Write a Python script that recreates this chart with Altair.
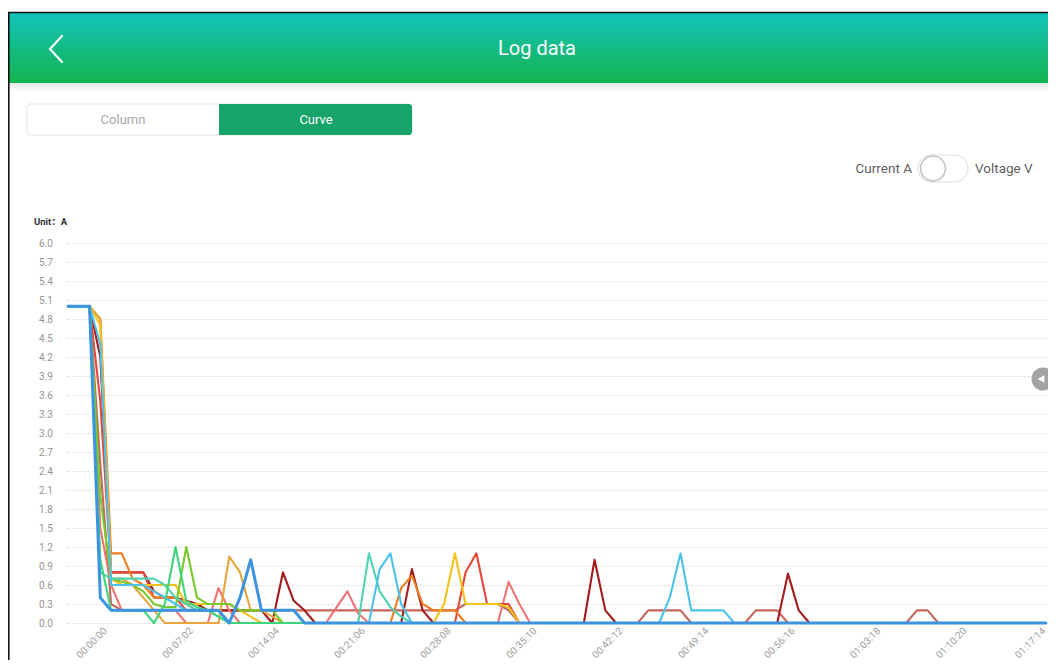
import altair as alt
import pandas as pd

# ---------------- data ----------------
series_names = ["brown", "crimson", "salmon", "red", "orange", "gold",
                "yellow", "lime", "teal", "sky", "green", "blue"]
series_colors = ["#c6655b", "#a31b1b", "#ef7373", "#e4483b", "#ef7d22", "#e6a53d",
                 "#f4c21c", "#79c92e", "#4fd3b0", "#4cc1ea", "#3ed67c", "#3c94e1"]

blue = [5.0, 5.0, 5.0, 0.4, 0.2, 0.2, 0.2, 0.2, 0.2, 0.2, 0.2, 0.2, 0.2, 0.2, 0.2, 0.0, 0.4, 1.0, 0.2, 0.2, 0.2, 0.2, 0.0,
        0, 0, 0, 0, 0, 0, 0, 0, 0, 0, 0, 0, 0, 0, 0, 0, 0, 0, 0, 0, 0, 0, 0,
        0, 0, 0, 0, 0, 0, 0, 0, 0, 0, 0, 0, 0, 0, 0, 0, 0, 0, 0, 0, 0, 0, 0,
        0, 0, 0, 0, 0, 0, 0, 0, 0, 0, 0, 0, 0, 0, 0, 0, 0, 0, 0, 0, 0, 0, 0]
sky = [5.0, 5.0, 5.0, 4.4, 0.6, 0.6, 0.6, 0.6, 0.5, 0.4, 0.3, 0.2, 0.2, 0.2, 0.2, 0, 0, 0, 0, 0, 0, 0, 0,
       0, 0, 0, 0, 0, 0, 0.85, 1.1, 0.3, 0, 0, 0, 0, 0, 0, 0, 0, 0, 0, 0, 0, 0, 0,
       0, 0, 0, 0, 0, 0, 0, 0, 0, 0, 0.4, 1.1, 0.2, 0.2, 0.2, 0.2, 0, 0, 0, 0, 0, 0, 0,
       0, 0, 0, 0, 0, 0, 0, 0, 0, 0, 0, 0, 0, 0, 0, 0, 0, 0, 0, 0, 0, 0, 0]
teal = [5.0, 5.0, 5.0, 0.8, 0.7, 0.7, 0.7, 0.7, 0.7, 0.6, 0.4, 0.3, 0.2, 0.2, 0.1, 0, 0, 0, 0, 0, 0, 0, 0,
        0, 0, 0, 0, 0, 1.1, 0.5, 0.25, 0.1, 0, 0, 0, 0, 0, 0, 0, 0, 0, 0, 0, 0, 0, 0,
        0, 0, 0, 0, 0, 0, 0, 0, 0, 0, 0, 0, 0, 0, 0, 0, 0, 0, 0, 0, 0, 0, 0,
        0, 0, 0, 0, 0, 0, 0, 0, 0, 0, 0, 0, 0, 0, 0, 0, 0, 0, 0, 0, 0, 0, 0]
green = [5.0, 5.0, 5.0, 1.0, 0.2, 0.2, 0.2, 0.2, 0.0, 0.3, 1.2, 0.35, 0.25, 0.2, 0.1, 0, 0, 0, 0, 0, 0, 0, 0,
         0, 0, 0, 0, 0, 0, 0, 0, 0, 0, 0, 0, 0, 0, 0, 0, 0, 0, 0, 0, 0, 0, 0,
         0, 0, 0, 0, 0, 0, 0, 0, 0, 0, 0, 0, 0, 0, 0, 0, 0, 0, 0, 0, 0, 0, 0,
         0, 0, 0, 0, 0, 0, 0, 0, 0, 0, 0, 0, 0, 0, 0, 0, 0, 0, 0, 0, 0, 0, 0]
lime = [5.0, 5.0, 5.0, 2.0, 0.7, 0.65, 0.6, 0.5, 0.3, 0.25, 0.25, 1.2, 0.4, 0.3, 0.3, 0.3, 0.2, 0.2, 0.2, 0.2, 0, 0, 0,
        0, 0, 0, 0, 0, 0, 0, 0, 0, 0, 0, 0, 0, 0, 0, 0, 0, 0, 0, 0, 0, 0, 0,
        0, 0, 0, 0, 0, 0, 0, 0, 0, 0, 0, 0, 0, 0, 0, 0, 0, 0, 0, 0, 0, 0, 0,
        0, 0, 0, 0, 0, 0, 0, 0, 0, 0, 0, 0, 0, 0, 0, 0, 0, 0, 0, 0, 0, 0, 0]
yellow = [5.0, 5.0, 5.0, 4.7, 0.7, 0.6, 0.6, 0.6, 0.6, 0.6, 0.6, 0.3, 0.3, 0.3, 0.3, 0.3, 0.2, 0.1, 0, 0, 0, 0, 0,
          0, 0, 0, 0, 0, 0, 0, 0, 0, 0, 0, 0, 0.3, 1.1, 0.3, 0.3, 0.3, 0.3, 0.25, 0, 0, 0, 0,
          0, 0, 0, 0, 0, 0, 0, 0, 0, 0, 0, 0, 0, 0, 0, 0, 0, 0, 0, 0, 0, 0, 0,
          0, 0, 0, 0, 0, 0, 0, 0, 0, 0, 0, 0, 0, 0, 0, 0, 0, 0, 0, 0, 0, 0, 0]
gold = [5.0, 5.0, 5.0, 4.8, 0.7, 0.7, 0.6, 0.4, 0.2, 0, 0, 0, 0, 0, 0, 1.05, 0.8, 0.2, 0.2, 0.1, 0, 0, 0,
        0, 0, 0, 0, 0, 0, 0, 0, 0, 0, 0, 0, 0, 0, 0, 0, 0, 0, 0, 0, 0, 0, 0,
        0, 0, 0, 0, 0, 0, 0, 0, 0, 0, 0, 0, 0, 0, 0, 0, 0, 0, 0, 0, 0, 0, 0,
        0, 0, 0, 0, 0, 0, 0, 0, 0, 0, 0, 0, 0, 0, 0, 0, 0, 0, 0, 0, 0, 0, 0]
orange = [5.0, 5.0, 5.0, 4.8, 1.1, 1.1, 0.7, 0.6, 0.4, 0.4, 0.4, 0.3, 0.2, 0.2, 0.2, 0, 0, 0, 0, 0, 0, 0, 0,
          0, 0, 0, 0, 0, 0, 0, 0, 0.55, 0.75, 0.3, 0.2, 0.2, 0.2, 0, 0, 0, 0, 0, 0, 0, 0, 0,
          0, 0, 0, 0, 0, 0, 0, 0, 0, 0, 0, 0, 0, 0, 0, 0, 0, 0, 0, 0, 0, 0, 0,
          0, 0, 0, 0, 0, 0, 0, 0, 0, 0, 0, 0, 0, 0, 0, 0, 0, 0, 0, 0, 0, 0, 0]
red = [5.0, 5.0, 5.0, 3.5, 0.8, 0.8, 0.8, 0.8, 0.4, 0.4, 0.4, 0.2, 0.2, 0.2, 0.2, 0, 0, 0, 0, 0, 0, 0, 0,
       0, 0, 0, 0, 0, 0, 0, 0, 0, 0, 0, 0, 0, 0, 0.8, 1.1, 0.3, 0.3, 0.3, 0, 0, 0, 0,
       0, 0, 0, 0, 0, 0, 0, 0, 0, 0, 0, 0, 0, 0, 0, 0, 0, 0, 0, 0, 0, 0, 0,
       0, 0, 0, 0, 0, 0, 0, 0, 0, 0, 0, 0, 0, 0, 0, 0, 0, 0, 0, 0, 0, 0, 0]
salmon = [5.0, 5.0, 5.0, 1.5, 0.6, 0.2, 0.2, 0.2, 0.2, 0.2, 0.2, 0, 0, 0, 0.55, 0.2, 0, 0, 0, 0, 0, 0, 0,
          0, 0, 0.25, 0.5, 0.15, 0, 0, 0, 0, 0, 0, 0, 0, 0, 0, 0, 0, 0, 0.65, 0.3, 0, 0, 0,
          0, 0, 0, 0, 0, 0, 0, 0, 0, 0, 0, 0, 0, 0, 0, 0, 0, 0, 0, 0, 0, 0, 0,
          0, 0, 0, 0, 0, 0, 0, 0, 0, 0, 0, 0, 0, 0, 0, 0, 0, 0, 0, 0, 0, 0, 0]
crimson = [5.0, 5.0, 5.0, 4.2, 0.8, 0.8, 0.8, 0.8, 0.5, 0.4, 0.4, 0.35, 0.3, 0.2, 0.2, 0.2, 0.2, 0.2, 0.2, 0, 0.8, 0.35, 0.2,
           0, 0, 0, 0, 0, 0, 0, 0, 0, 0.85, 0.2, 0, 0, 0, 0, 0, 0, 0, 0, 0, 0, 0, 0,
           0, 0, 0, 1.0, 0.2, 0, 0, 0, 0, 0, 0, 0, 0, 0, 0, 0, 0, 0, 0, 0, 0, 0.78, 0.2,
           0, 0, 0, 0, 0, 0, 0, 0, 0, 0, 0, 0, 0, 0, 0, 0, 0, 0, 0, 0, 0, 0, 0]
brown = [5.0, 5.0, 5.0, 2.5, 0.3, 0.2, 0.2, 0.2, 0.2, 0.2, 0.2, 0.2, 0.2, 0.2, 0.2, 0.2, 0.2, 0.2, 0.2, 0.2, 0.2, 0.2, 0.2,
         0.2, 0.2, 0.2, 0.2, 0.2, 0.2, 0.2, 0.2, 0.2, 0.2, 0.2, 0.2, 0.2, 0.2, 0.3, 0.3, 0.3, 0.3, 0.2, 0, 0, 0, 0,
         0, 0, 0, 0, 0, 0, 0, 0, 0.2, 0.2, 0.2, 0.2, 0, 0, 0, 0, 0, 0, 0.2, 0.2, 0.2, 0, 0,
         0, 0, 0, 0, 0, 0, 0, 0, 0, 0, 0.2, 0.2, 0, 0, 0, 0, 0, 0, 0, 0, 0, 0, 0]

x_tick_index = [0, 8, 16, 24, 32, 40, 48, 56, 64, 72, 80, 88]
x_labels = ["00:00:00", "00:07:02", "00:14:04", "00:21:06", "00:28:08", "00:35:10",
            "00:42:12", "00:49:14", "00:56:16", "01:03:18", "01:10:20", "01:17:14"]
y_ticks = [0.0, 0.3, 0.6, 0.9, 1.2, 1.5, 1.8, 2.1, 2.4, 2.7, 3.0, 3.3, 3.6, 3.9,
           4.2, 4.5, 4.8, 5.1, 5.4, 5.7, 6.0]

series_values = {"blue": blue, "sky": sky, "teal": teal, "green": green, "lime": lime,
                 "yellow": yellow, "gold": gold, "orange": orange, "red": red,
                 "salmon": salmon, "crimson": crimson, "brown": brown}

rows = []
for name, vals in series_values.items():
    assert len(vals) == 92, name
    for i, v in enumerate(vals):
        rows.append({"series": name, "idx": i, "val": v})
df = pd.DataFrame(rows)
one = pd.DataFrame({"k": [0]})

FONT = "Roboto, 'Noto Sans CJK SC', sans-serif"

# ---------------- axes ----------------
label_expr = "[" + ",".join(repr(s) for s in x_labels) + "][round(datum.value / 8)]"
last_tick = x_tick_index[-1]
x_axis = alt.Axis(values=x_tick_index, labelExpr=label_expr, labelAngle=315,
                  labelAlign="right", labelBaseline="middle",
                  labelOffset={"condition": {"test": f"datum.value >= {last_tick}", "value": 30},
                               "value": 37},
                  labelPadding=6, domain=False, ticks=False, grid=False,
                  labelColor="#9c9c9c", labelFont=FONT, labelFontSize=10,
                  title=None, labelOverlap=False, labelBound=False, labelFlush=False)
y_axis = alt.Axis(values=y_ticks, format=".1f", domain=False, ticks=False,
                  labelPadding=14.5, labelColor="#959595", labelFont=FONT,
                  labelFontSize=10, grid=True, gridColor="#d9d9d9",
                  gridDash=[2, 2], gridWidth=1, title=None, labelOverlap=False)

x_enc = alt.X("idx:Q", scale=alt.Scale(domain=[-0.1, 91.2], nice=False, zero=False), axis=x_axis)
y_enc = alt.Y("val:Q", scale=alt.Scale(domain=[0, 6], nice=False), axis=y_axis)

line_layers = []
for name, color in zip(series_names, series_colors):
    w = 3 if name == "blue" else 2.1
    line_layers.append(
        alt.Chart(df).transform_filter(alt.datum.series == name)
        .mark_line(color=color, strokeWidth=w, strokeJoin="round", strokeCap="round")
        .encode(x=x_enc, y=y_enc)
    )

# ---------------- page decoration (plot origin is page (67, 243)) ----------------
def px(v):
    return v - 67

def py(v):
    return v - 243

def rect(x1, x2, y1, y2, **kw):
    return alt.Chart(one).mark_rect(**kw).encode(
        x=alt.value(px(x1)), x2=alt.value(px(x2)), y=alt.value(py(y1)), y2=alt.value(py(y2)))

def seg(x1, y1, x2, y2, **kw):
    return alt.Chart(one).mark_rule(**kw).encode(
        x=alt.value(px(x1)), y=alt.value(py(y1)), x2=alt.value(px(x2)), y2=alt.value(py(y2)))

def label(t, x, y, **kw):
    return alt.Chart(one).mark_text(text=t, font=FONT, baseline="middle", **kw).encode(
        x=alt.value(px(x)), y=alt.value(py(y)))

def dot(x, y, **kw):
    return alt.Chart(one).mark_point(**kw).encode(x=alt.value(px(x)), y=alt.value(py(y)))

header_grad = alt.LinearGradient(gradient="linear", x1=0, x2=0, y1=0, y2=1,
                                 stops=[alt.GradientStop(color="#12c3bc", offset=0),
                                        alt.GradientStop(color="#13b44e", offset=1)])
shadow_grad = alt.LinearGradient(gradient="linear", x1=0, x2=0, y1=0, y2=1,
                                 stops=[alt.GradientStop(color="#e4e7e5", offset=0),
                                        alt.GradientStop(color="#ffffff", offset=1)])

decor = [
    rect(8, 1056, 83, 92, fill=shadow_grad),
    rect(8, 1056, 12.5, 83, fill=header_grad),
    seg(8, 12.5, 1056, 12.5, color="#111111", strokeWidth=1.5),
    seg(8.8, 12, 8.8, 668, color="#111111", strokeWidth=1.6),
    seg(62, 36, 50, 49, color="white", strokeWidth=2.2, strokeCap="round"),
    seg(50, 49, 62, 62, color="white", strokeWidth=2.2, strokeCap="round"),
    label("Log data", 537, 49, fontSize=20, color="white", align="center"),
    rect(27, 412, 104, 135, fill="white", stroke="#e2e2e2", strokeWidth=1, cornerRadius=3),
    rect(219, 412, 104, 135, fill="#17a46a", cornerRadiusTopRight=3, cornerRadiusBottomRight=3),
    label("Column", 123, 120, fontSize=13, color="#a8a8a8", align="center"),
    label("Curve", 316, 120, fontSize=13, color="white", align="center"),
    label("Current A", 912, 169, fontSize=13.5, color="#606060", align="right"),
    rect(918, 968, 155, 182, fill="white", stroke="#dcdcdc", strokeWidth=1, cornerRadius=13.5),
    dot(933, 168.5, shape="circle", filled=True, fill="white", stroke="#c2c2c2",
        strokeWidth=1.5, size=616, opacity=1),
    label("Voltage V", 975, 169, fontSize=13.5, color="#606060", align="left"),
    label("Unit\uff1aA", 34, 222, fontSize=9.5, color="#333333", align="left", fontWeight="bold"),
    dot(1043, 379, shape="circle", filled=True, color="#a3a3a3", size=530, opacity=1),
    dot(1041, 379, shape="triangle-left", filled=True, color="white", size=60, opacity=1),
]

chart = alt.layer(*line_layers, *decor).properties(
    width=981, height=380,
    autosize=alt.AutoSizeParams(type="none"),
    padding={"left": 59, "top": 235, "right": 0, "bottom": 37},
    background="white",
).configure_view(strokeWidth=0)

chart.save("out.html", embed_options={"renderer": "svg", "actions": False})
